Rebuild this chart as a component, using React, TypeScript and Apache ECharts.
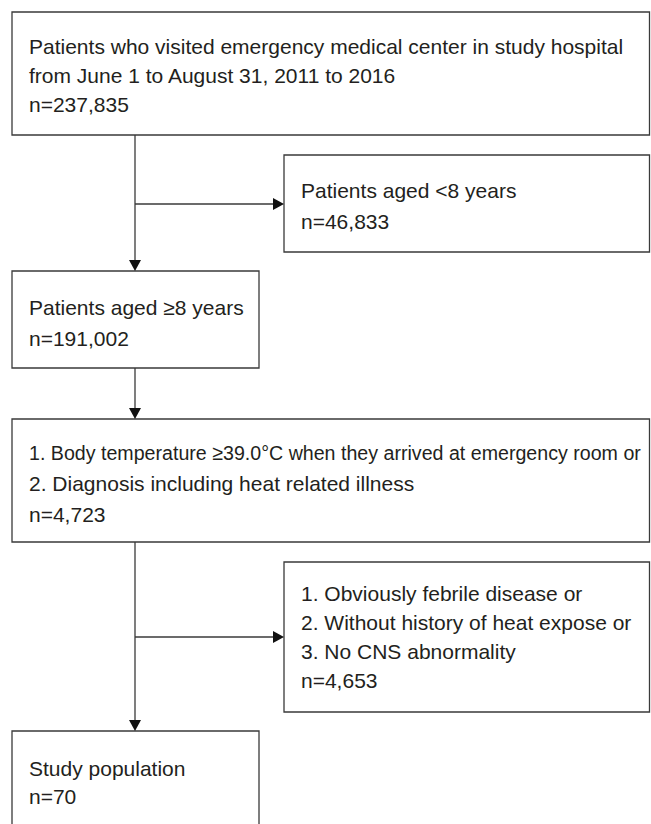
import React, { useEffect, useRef } from "react";
import * as echarts from "echarts";

// ---- data ----
const boxTitles: string[][] = [
  ["Patients who visited emergency medical center in study hospital", "from June 1 to August 31, 2011 to 2016"],
  ["Patients aged <8 years"],
  ["Patients aged \u22658 years"],
  ["1. Body temperature \u226539.0\u00b0C when they arrived at emergency room or", "2. Diagnosis including heat related illness"],
  ["1. Obviously febrile disease or", "2. Without history of heat expose or", "3. No CNS abnormality"],
  ["Study population"],
];
const boxCounts: number[] = [237835, 46833, 191002, 4723, 4653, 70];

// ---- layout (positions, not data) ----
const W = 651;
const H = 824;
const boxes = [
  { x: 12, y: 12, x2: 649.5, y2: 135, firstBase: 53, lh: 29 },
  { x: 284, y: 155, x2: 649.5, y2: 252, firstBase: 197, lh: 31 },
  { x: 12, y: 271, x2: 259, y2: 368, firstBase: 314, lh: 31 },
  { x: 12, y: 419, x2: 649.5, y2: 542, firstBase: 460, lh: 30.5 },
  { x: 284, y: 562, x2: 649.5, y2: 712, firstBase: 600, lh: 29 },
  { x: 12, y: 731, x2: 259, y2: 850, firstBase: 775, lh: 28 },
];
// horizontal squeeze for lines whose glyphs run wider than the reference face
const squeeze: Record<string, number> = { "3-0": 0.935 };
const spineX = 135;
const FONT = 21;
const LINE = "#3a3a3a";
const TEXT = "#231f20";
const AH_L = 11;
const AH_W = 6;

function fmt(n: number): string {
  return "n=" + n.toLocaleString("en-US");
}

function buildGraphics(): any[] {
  const els: any[] = [];
  boxes.forEach((b, i) => {
    els.push({
      type: "rect",
      shape: { x: b.x, y: b.y, width: b.x2 - b.x, height: b.y2 - b.y },
      style: { fill: "#fff", stroke: LINE, lineWidth: 1.3 },
    });
    const lines = [...boxTitles[i], fmt(boxCounts[i])];
    lines.forEach((t, k) => {
      const sx = squeeze[`${i}-${k}`] ?? 1;
      els.push({
        type: "text",
        x: b.x + 17,
        y: b.firstBase + k * b.lh - 7,
        scaleX: sx,
        style: {
          text: t,
          fill: TEXT,
          font: `${FONT}px "Liberation Sans", Arial, sans-serif`,
          align: "left",
          verticalAlign: "middle",
        },
      });
    });
  });
  const vline = (y1: number, y2: number) =>
    els.push({ type: "line", shape: { x1: spineX, y1, x2: spineX, y2: y2 - AH_L + 1 }, style: { stroke: LINE, lineWidth: 1.3 } });
  const downHead = (y: number) =>
    els.push({ type: "polygon", shape: { points: [[spineX - AH_W, y - AH_L], [spineX + AH_W, y - AH_L], [spineX, y]] }, style: { fill: "#111" } });
  const rightArrow = (y: number, x2: number) => {
    els.push({ type: "line", shape: { x1: spineX, y1: y, x2: x2 - AH_L + 1, y2: y }, style: { stroke: LINE, lineWidth: 1.3 } });
    els.push({ type: "polygon", shape: { points: [[x2 - AH_L, y - AH_W], [x2 - AH_L, y + AH_W], [x2, y]] }, style: { fill: "#111" } });
  };
  vline(boxes[0].y2, boxes[2].y);
  downHead(boxes[2].y);
  rightArrow(204, boxes[1].x);
  vline(boxes[2].y2, boxes[3].y);
  downHead(boxes[3].y);
  vline(boxes[3].y2, boxes[5].y);
  downHead(boxes[5].y);
  rightArrow(637, boxes[4].x);
  return els;
}

export default function App() {
  const ref = useRef<HTMLDivElement>(null);
  useEffect(() => {
    if (!ref.current) return;
    const chart = echarts.init(ref.current, undefined, { renderer: "svg" });
    chart.setOption({
      animation: false,
      backgroundColor: "#fff",
      graphic: buildGraphics(),
    });
    return () => chart.dispose();
  }, []);
  return (
    <div
      ref={ref}
      style={{ position: "fixed", left: 0, top: 0, width: W, height: H, background: "#fff" }}
    />
  );
}
